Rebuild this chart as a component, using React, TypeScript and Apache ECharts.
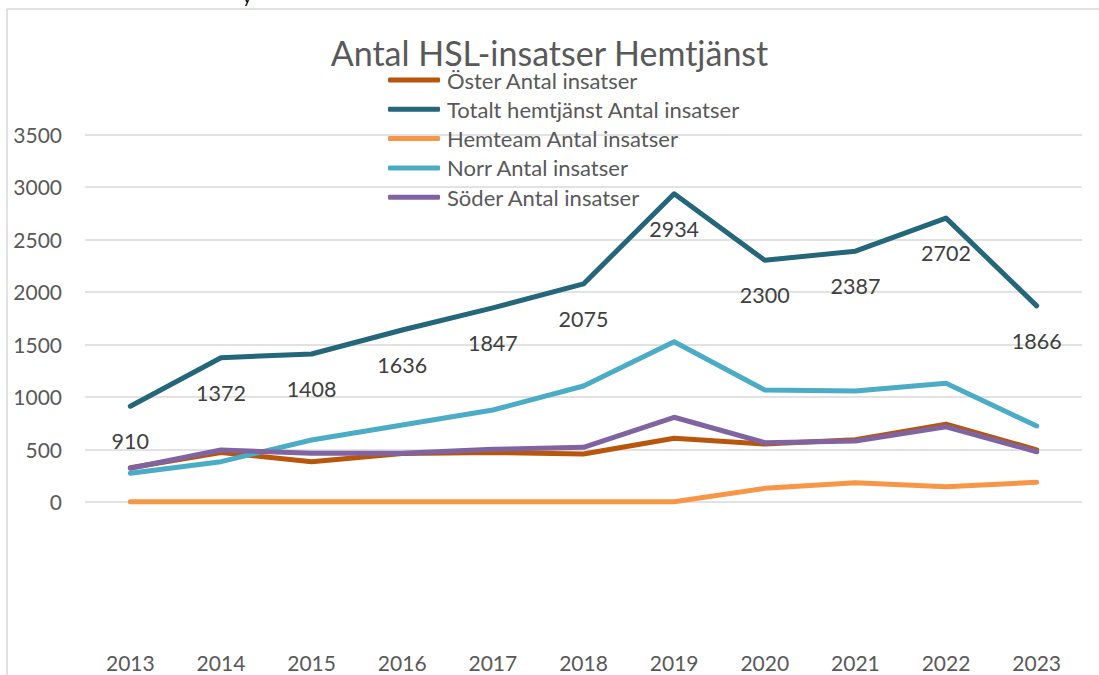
import React, { useEffect, useRef } from "react";
import * as echarts from "echarts";

const years = ["2013", "2014", "2015", "2016", "2017", "2018", "2019", "2020", "2021", "2022", "2023"];
const oster = [325, 470, 382, 460, 470, 455, 605, 550, 592, 740, 495];
const totalt = [910, 1372, 1408, 1636, 1847, 2075, 2934, 2300, 2387, 2702, 1866];
const hemteam = [0, 0, 0, 0, 0, 0, 0, 128, 182, 144, 186];
const norr = [272, 382, 589, 731, 874, 1103, 1525, 1065, 1055, 1128, 722];
const soder = [319, 493, 462, 462, 500, 519, 805, 563, 579, 715, 477];

const FONT = "Lato, 'Open Sans', sans-serif";

export default function App() {
  const ref = useRef<HTMLDivElement>(null);
  useEffect(() => {
    if (!ref.current) return;
    const chart = echarts.init(ref.current, null, { renderer: "svg" });
    const mk = (name: string, data: number[], color: string, extra: any = {}) => ({
      name,
      type: "line",
      data,
      symbol: "circle",
      symbolSize: 0,
      showSymbol: true,
      lineStyle: { color, width: 5, cap: "round", join: "round" },
      itemStyle: { color },
      ...extra,
    });
    chart.setOption({
      animation: false,
      backgroundColor: "#ffffff",
      textStyle: { fontFamily: FONT },
      title: {
        text: "Antal HSL-insatser Hemtjänst",
        left: "center",
        top: 36,
        padding: 0,
        textStyle: { fontFamily: FONT, fontSize: 34, lineHeight: 32, fontWeight: "normal", color: "#595959" },
      },
      legend: {
        orient: "vertical",
        left: 388,
        top: 69,
        padding: 0,
        itemWidth: 52,
        itemHeight: 5,
        itemGap: 7.3,
        icon: "roundRect",
        textStyle: { fontFamily: FONT, fontSize: 22, color: "#595959", lineHeight: 22, padding: [0, 0, 0, 2] },
        data: ["Öster Antal insatser", "Totalt hemtjänst Antal insatser", "Hemteam Antal insatser", "Norr Antal insatser", "Söder Antal insatser"],
      },
      graphic: [
        { type: "line", shape: { x1: 7, y1: 9, x2: 1099, y2: 9 }, style: { stroke: "#d9d9d9", lineWidth: 1.5 } },
        { type: "line", shape: { x1: 7, y1: 9, x2: 7, y2: 675 }, style: { stroke: "#d9d9d9", lineWidth: 1.5 } },
        { type: "text", x: 243, y: 4, style: { text: "y", fontSize: 16, fontFamily: FONT, fill: "#000", verticalAlign: "bottom" } },
      ],
      grid: { left: 85, right: 17, top: 134.3, bottom: 68.2 },
      xAxis: {
        type: "category",
        data: years,
        boundaryGap: true,
        axisLine: { show: false },
        axisTick: { show: false },
        axisLabel: { margin: 45, fontSize: 21, color: "#595959", fontFamily: FONT },
      },
      yAxis: {
        type: "value",
        min: -1000,
        max: 3500,
        interval: 500,
        axisLine: { show: false },
        axisTick: { show: false },
        axisLabel: {
          margin: 23,
          fontSize: 21,
          color: "#595959",
          fontFamily: FONT,
          formatter: (v: number) => (v < 0 ? "" : String(v)),
        },
        splitLine: {
          lineStyle: {
            width: 1.5,
            color: ["transparent", "transparent", "#d9d9d9", "#d9d9d9", "#d9d9d9", "#d9d9d9", "#d9d9d9", "#d9d9d9", "#d9d9d9", "#d9d9d9"],
          },
        },
      },
      series: [
        mk("Öster Antal insatser", oster, "#B8560C"),
        mk("Totalt hemtjänst Antal insatser", totalt, "#24667A", {
          label: {
            show: true,
            position: "bottom",
            distance: 24,
            fontSize: 21.5,
            color: "#404040",
            fontFamily: FONT,
          },
        }),
        mk("Hemteam Antal insatser", hemteam, "#F79646"),
        mk("Norr Antal insatser", norr, "#4BACC6"),
        mk("Söder Antal insatser", soder, "#8064A2"),
      ],
    });
    return () => chart.dispose();
  }, []);
  return (
    <div
      ref={ref}
      style={{ position: "fixed", left: 0, top: 0, width: 1099, height: 675, background: "#fff" }}
    />
  );
}
